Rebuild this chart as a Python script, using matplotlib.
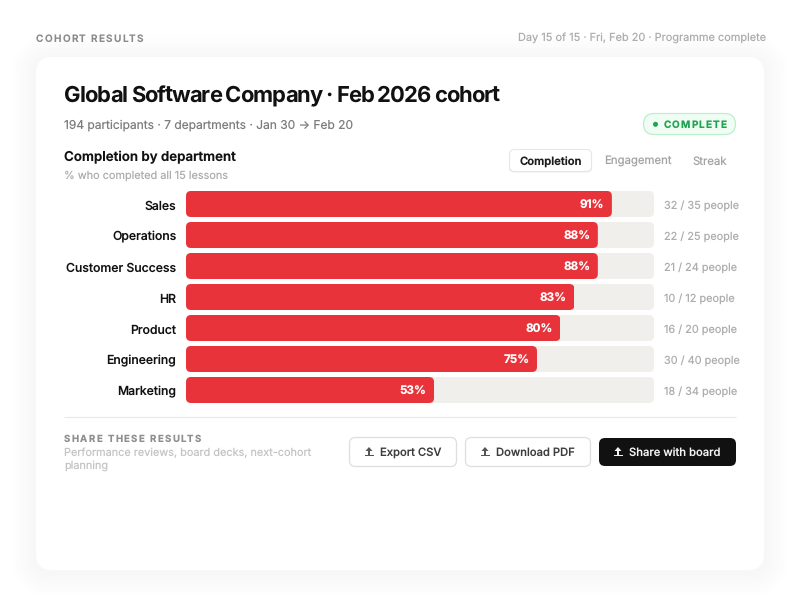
import matplotlib
matplotlib.use('Agg')
import matplotlib.pyplot as plt
from matplotlib.patches import FancyBboxPatch, Polygon, Circle, Rectangle
from matplotlib.text import Text
from matplotlib.transforms import IdentityTransform, ScaledTranslation

plt.rcParams['font.family'] = ['Inter', 'DejaVu Sans']
plt.rcParams['text.hinting'] = 'no_hinting'
plt.rcParams['text.hinting_factor'] = 1

departments = ['Sales', 'Operations', 'Customer Success', 'HR', 'Product', 'Engineering', 'Marketing']
completion = [91, 88, 88, 83, 80, 75, 53]
people = ['32 / 35 people', '22 / 25 people', '21 / 24 people', '10 / 12 people',
          '16 / 20 people', '30 / 40 people', '18 / 34 people']
tabs = ['Completion', 'Engagement', 'Streak']

RED = '#e9333b'
TRACK = '#f0efeb'
INK = '#111111'


class TrackedText(Text):
    # matplotlib has no letter spacing, so draw glyph by glyph but keep one text object
    def __init__(self, x, y, s, tracking=0, **kw):
        super().__init__(x, y, s, **kw)
        self.tracking = tracking

    def draw(self, renderer):
        s = self.get_text()
        fp = self.get_fontproperties()
        x0, y0 = self.get_transform().transform(self.get_position())
        for i, ch in enumerate(s):
            w = renderer.get_text_width_height_descent(s[:i], fp, False)[0] if i else 0
            t = Text(x0 + w + self.tracking * i, y0, ch, fontproperties=fp, color=self.get_color(),
                     va='baseline', ha='left', transform=IdentityTransform())
            t.set_figure(self.get_figure())
            t.draw(renderer)


def tracked(ax, x, y, s, tracking, **kw):
    t = TrackedText(x, y, s, tracking=tracking, transform=ax.transData, **kw)
    ax.add_artist(t)
    return t


def rbox(ax, x0, y0, x1, y1, r, **kw):
    p = FancyBboxPatch((x0, y0), x1 - x0, y1 - y0, boxstyle='round,pad=0,rounding_size=%g' % r, **kw)
    ax.add_patch(p)
    return p


def upload_icon(ax, x, y, color):
    # little arrow over a base line, centred on x
    ax.add_patch(Polygon([(x - 3.5, y - 0.5), (x, y - 4.5), (x + 3.5, y - 0.5)], closed=True, fc=color, ec='none', zorder=6))
    ax.add_patch(Rectangle((x - 1, y - 1), 2, 4, fc=color, ec='none', zorder=6))
    ax.add_patch(Rectangle((x - 4.5, y + 3), 9, 1.3, fc=color, ec='none', zorder=6))


fig = plt.figure(figsize=(8, 6), dpi=100, facecolor='white')
bg = fig.add_axes([0, 0, 1, 1])
bg.set_xlim(0, 800)
bg.set_ylim(600, 0)
bg.axis('off')

# soft card shadow
for grow in range(24, 0, -3):
    rbox(bg, 36 - grow, 57 - grow + 2, 764 + grow, 570 + grow + 2, 16 + grow, fc='black', ec='none', alpha=0.0022)
rbox(bg, 36, 57, 764, 570, 16, fc='white', ec='none', zorder=1)

tracked(bg, 36, 41.5, 'COHORT RESULTS', 1.25, fontsize=7.2, fontweight='semibold', color='#8a8a8a', zorder=3)
bg.text(766.5, 38, 'Day 15 of 15 · Fri, Feb 20 · Programme complete', fontsize=7.9, color='#adadad', va='center', ha='right')

tracked(bg, 64, 101.5, 'Global Software Company · Feb 2026 cohort', -1.0, fontsize=15.84, fontweight='bold', color=INK, zorder=3)
bg.text(64, 125.5, '194 participants · 7 departments · Jan 30 → Feb 20', fontsize=8.64, color='#7d7d7d', va='center', zorder=3)

# status badge
rbox(bg, 643.5, 113.5, 735.5, 134.5, 10.5, fc='#f0fdf4', ec='#bbf0cc', lw=0.9, zorder=3)
bg.add_patch(Circle((655.5, 124.3), 2.5, fc='#1fa34f', ec='none', zorder=4))
tracked(bg, 663.5, 128.3, 'COMPLETE', 1.05, fontsize=7.2, fontweight='bold', color='#1fa34f', zorder=4)

bg.text(64, 157, 'Completion by department', fontsize=9.6, fontweight='semibold', color=INK, va='center', zorder=3)
bg.text(64, 175.5, '% who completed all 15 lessons', fontsize=7.85, color='#adadad', va='center', zorder=3)

# tab switcher
rbox(bg, 509, 150.5, 592, 172.5, 5, fc='#e4e4e4', ec='none', alpha=0.6, zorder=2)
rbox(bg, 509.5, 149.5, 591.5, 171.5, 5, fc='white', ec='#e6e6e6', lw=0.8, zorder=3)
bg.text(550.7, 162.2, tabs[0], fontsize=8.1, fontweight='semibold', color='#1c1c1c', ha='center', va='center', zorder=4)
bg.text(637.5, 161.3, tabs[1], fontsize=8.2, color='#a3a3a3', ha='center', va='center', zorder=4)
bg.text(709.5, 161.3, tabs[2], fontsize=8.2, color='#a3a3a3', ha='center', va='center', zorder=4)

# bars
ax = fig.add_axes([186 / 800, 1 - 405.5 / 600, 468 / 800, 217 / 600])
ax.patch.set_alpha(0)
ax.set_zorder(2)
ax.set_xlim(0, 100)
ax.set_ylim(len(departments) - 0.5, -0.5)
for s in ax.spines.values():
    s.set_visible(False)
ax.set_xticks([])
ax.set_yticks(range(len(departments)))
ax.set_yticklabels(departments, fontsize=8.8, fontweight='medium', color=INK)
ax.tick_params(axis='y', length=0, pad=7.0)
nudge = ScaledTranslation(0, -0.7 / 72, fig.dpi_scale_trans)
for lab in ax.get_yticklabels():
    lab.set_transform(lab.get_transform() + nudge)

bar_h = 26 / 31
px_x = 100 / 468
px_y = 1 / 31
for i, (dept, val, ppl) in enumerate(zip(departments, completion, people)):
    for width, colour, r in [(100, TRACK, 5), (val, RED, 5)]:
        bar = ax.barh(i, width, height=bar_h, color=colour, linewidth=0, zorder=2 if width == 100 else 3)[0]
        clip = FancyBboxPatch((0, i - bar_h / 2), width, bar_h,
                              boxstyle='round,pad=0,rounding_size=%g' % (r * px_x),
                              mutation_aspect=px_y / px_x, transform=ax.transData, fc='none', ec='none')
        bar.set_clip_path(clip)
    ax.annotate('%d%%' % val, (val, i), xytext=(-5.5, -1.2), textcoords='offset points', ha='right', va='center',
                fontsize=8.4, fontweight='bold', color='white', zorder=5)
    ax.annotate(ppl, (100, i), xytext=(7.4, -1.2), textcoords='offset points', ha='left', va='center',
                fontsize=7.85, color='#adadad', annotation_clip=False)

# footer
bg.plot([64, 736], [417.2, 417.2], color='#e8e8e8', lw=0.8, zorder=3, solid_capstyle='butt')
tracked(bg, 64, 442, 'SHARE THESE RESULTS', 1.4, fontsize=6.9, fontweight='bold', color='#8f8f8f', zorder=3)
bg.text(64.5, 453, 'Performance reviews, board decks, next-cohort', fontsize=7.85, color='#c4c4c4', va='center', zorder=3)
bg.text(64.5, 466, 'planning', fontsize=7.85, color='#c4c4c4', va='center', zorder=3)

rbox(bg, 349.5, 437.5, 456.5, 466.5, 6, fc='white', ec='#dedede', lw=0.9, zorder=3)
upload_icon(bg, 369, 451.5, '#555555')
bg.text(380, 452.5, 'Export CSV', fontsize=8.1, fontweight='medium', color='#3d3d3d', va='center', zorder=4)
rbox(bg, 465.5, 437.5, 590.5, 466.5, 6, fc='white', ec='#dedede', lw=0.9, zorder=3)
upload_icon(bg, 485, 451.5, '#555555')
bg.text(496, 452.5, 'Download PDF', fontsize=8.1, fontweight='medium', color='#3d3d3d', va='center', zorder=4)
rbox(bg, 599, 438, 736, 466, 6, fc='#111111', ec='none', zorder=3)
upload_icon(bg, 618, 451.5, '#f2f2f2')
bg.text(629, 452.5, 'Share with board', fontsize=8.1, fontweight='medium', color='#f2f2f2', va='center', zorder=4)

fig.savefig('out.png', dpi=100)
plt.close(fig)
